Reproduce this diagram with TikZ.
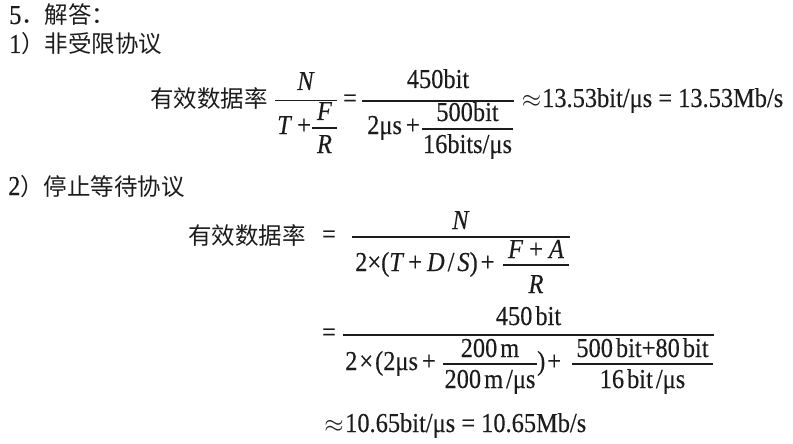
\documentclass[tikz,border=0pt]{standalone}
\usepackage{graphicx}
\usepackage{fontspec}
\setmainfont{Liberation Serif}[FakeBold=0.25]
\newfontfamily\cjk{Noto Sans CJK SC}
\definecolor{ink}{RGB}{28,28,28}
\newcommand\latsize{\fontsize{24.4}{29}\selectfont}
\newcommand\cjksize{\cjk\fontsize{23.5}{28}\selectfont}
\newcommand\vi[1]{\textit{#1}}
\newcommand\vs[1]{\scalebox{1}[1.12]{#1}}
\tikzset{
  txt/.style={font=\latsize, text=ink, inner sep=0pt, anchor=base},
  txtl/.style={txt, anchor=base west},
  cjkt/.style={font=\cjksize, text=ink, inner sep=0pt, anchor=base west},
  fbar/.style={draw=ink, line width=1.2pt}
}
\begin{document}
\begin{tikzpicture}[x=1pt,y=-1pt]
\fill[white] (0,0) rectangle (793,444);
\useasboundingbox (0,0) rectangle (793,444);
% headings
\node[cjkt] (h0) at (9,24) {{\rmfamily\latsize\vs{5}}．解答：};
\node[cjkt] (h1) at (9,53) {{\rmfamily\latsize\vs{1}}）非受限协议};
\node[cjkt] (h2) at (8,195) {{\rmfamily\latsize\vs{2}}）停止等待协议};
% formula 1
\node[cjkt] (e1) at (150,107) {有效数据率};
\draw[fbar] (275,100.5) -- (337,100.5);
\node[txt] (n1) at (306,90) {\vs{\vi{N}}};
\node[txtl] (d1) at (277,134) {\vs{\vi{T}\hspace{5pt}+}};
\draw[fbar] (312,128) -- (337,128);
\node[txt] (f1) at (324.5,120) {\vs{\vi{F}}};
\node[txt] (r1) at (324.5,153) {\vs{\vi{R}}};
\node[txt] (q1) at (350,107) {\vs{=}};
\draw[fbar] (362,101) -- (514,101);
\node[txt] (n2) at (438,88) {\vs{450bit}};
\node[txtl] (d2) at (367,134) {\vs{2μs\hspace{4pt}+}};
\draw[fbar] (422,129) -- (513,129);
\node[txt] (f2) at (467.5,121) {\vs{500bit}};
\node[txt] (r2) at (467.5,153) {\vs{16bits/μs}};
\node[txt] (ap1) at (531.5,107) {$\approx$};
\node[txtl] (a1) at (542,107) {\vs{13.53bit/μs = 13.53Mb/s}};
% formula 2, first line
\node[cjkt] (e2) at (188,244) {有效数据率};
\node[txt] (q2) at (329,243) {\vs{=}};
\draw[fbar] (352,237) -- (570,237);
\node[txt] (n3) at (461,229) {\vs{\vi{N}}};
\node[txtl] (d3) at (355,271) {\vs{2×(\vi{T}\hspace{4pt}+\hspace{5pt}\vi{D}\hspace{3pt}/\hspace{3pt}\vi{S})\hspace{3pt}+}};
\draw[fbar] (503,265) -- (569,265);
\node[txt] (f3) at (536,258) {\vs{\vi{F}\hspace{6pt}+\hspace{6pt}\vi{A}}};
\node[txt] (r3) at (536,293) {\vs{\vi{R}}};
% formula 2, second line
\node[txt] (q3) at (329,341) {\vs{=}};
\draw[fbar] (343,335) -- (714,335);
\node[txt] (n4) at (528.5,325) {\vs{450\hspace{3pt}bit}};
\node[txtl] (d4) at (345,370) {\vs{2\hspace{2pt}×\hspace{2pt}(2μs\hspace{4pt}+}};
\draw[fbar] (443,364) -- (537,364);
\node[txt] (n5) at (490,357) {\vs{200\hspace{3pt}m}};
\node[txt] (r5) at (490,388) {\vs{200\hspace{3pt}m\hspace{3pt}/μs}};
\node[txtl] (p5) at (537,370) {\vs{)\hspace{2pt}+}};
\draw[fbar] (572,364) -- (713,364);
\node[txt] (n6) at (642.5,357) {\vs{500\hspace{3pt}bit+80\hspace{3pt}bit}};
\node[txt] (r6) at (642.5,388) {\vs{16\hspace{3pt}bit\hspace{3pt}/μs}};
% result
\node[txt] (ap2) at (334,432) {$\approx$};
\node[txtl] (a2) at (345,432) {\vs{10.65bit/μs = 10.65Mb/s}};
\end{tikzpicture}
\end{document}
